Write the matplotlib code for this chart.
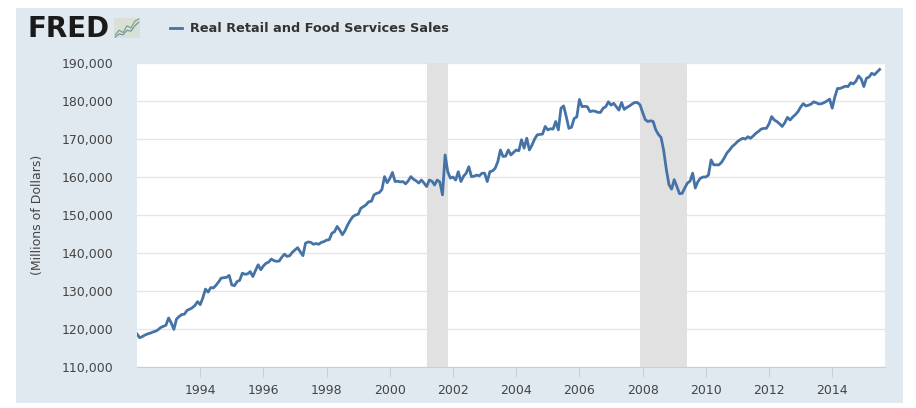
import numpy as np
import matplotlib
matplotlib.use('agg')
import matplotlib.pyplot as plt
from matplotlib.patches import Rectangle

# monthly values, thousands of millions, Jan 1992 - Jul 2015
sales_by_year = {
    1992: [118.7, 117.7, 118.0, 118.4, 118.7, 118.9, 119.2, 119.4, 119.8, 120.4, 120.7, 121.0],
    1993: [122.9, 121.6, 119.9, 122.6, 123.3, 123.8, 123.9, 124.9, 125.2, 125.6, 126.2, 127.2],
    1994: [126.4, 128.2, 130.5, 129.7, 130.9, 130.8, 131.5, 132.4, 133.4, 133.5, 133.6, 134.1],
    1995: [131.6, 131.4, 132.5, 132.8, 134.7, 134.4, 134.5, 135.1, 133.8, 135.4, 136.9, 135.6],
    1996: [136.6, 137.3, 137.6, 138.4, 138.0, 137.8, 137.9, 138.9, 139.7, 139.1, 139.3, 140.2],
    1997: [140.8, 141.4, 140.3, 139.3, 142.6, 142.9, 142.8, 142.3, 142.5, 142.3, 142.8, 143.0],
    1998: [143.4, 143.5, 145.2, 145.6, 147.0, 146.0, 144.8, 145.9, 147.4, 148.6, 149.6, 150.0],
    1999: [150.2, 151.8, 152.2, 152.7, 153.5, 153.6, 155.3, 155.7, 155.9, 156.7, 160.1, 158.5],
    2000: [159.6, 161.2, 158.8, 158.9, 158.7, 158.8, 158.2, 159.0, 160.1, 159.4, 159.0, 158.4],
    2001: [159.2, 158.4, 157.5, 159.2, 158.9, 157.9, 159.2, 158.7, 155.3, 165.8, 161.4, 159.7],
    2002: [160.0, 159.2, 161.4, 158.8, 160.2, 161.0, 162.7, 160.1, 160.2, 160.5, 160.3, 161.0],
    2003: [161.0, 158.8, 161.4, 161.6, 162.3, 164.0, 167.1, 165.4, 165.5, 167.1, 165.8, 166.5],
    2004: [167.1, 166.9, 169.8, 167.6, 170.2, 167.1, 168.4, 170.0, 171.1, 171.2, 171.3, 173.3],
    2005: [172.4, 172.7, 172.6, 174.6, 172.4, 178.1, 178.7, 175.9, 172.8, 173.1, 175.4, 175.8],
    2006: [180.4, 178.5, 178.6, 178.5, 177.2, 177.4, 177.3, 177.0, 177.0, 178.1, 178.5, 179.8],
    2007: [178.9, 179.4, 178.5, 177.6, 179.6, 177.8, 178.3, 178.7, 179.2, 179.6, 179.6, 179.0],
    2008: [177.0, 175.1, 174.6, 174.8, 174.6, 172.4, 171.2, 170.4, 167.0, 162.0, 158.0, 156.8],
    2009: [159.3, 157.5, 155.6, 155.7, 157.1, 158.4, 158.9, 161.0, 157.1, 158.8, 159.7, 160.0],
    2010: [160.0, 160.5, 164.5, 163.2, 163.2, 163.2, 163.9, 165.0, 166.3, 167.1, 168.0, 168.6],
    2011: [169.3, 169.8, 170.2, 170.0, 170.6, 170.2, 170.8, 171.5, 172.0, 172.6, 172.8, 172.8],
    2012: [174.0, 175.9, 175.0, 174.6, 174.0, 173.3, 174.3, 175.7, 175.0, 175.8, 176.4, 177.2],
    2013: [178.4, 179.3, 178.7, 178.9, 179.2, 179.8, 179.5, 179.2, 179.3, 179.6, 180.0, 180.5],
    2014: [178.1, 181.1, 183.3, 183.3, 183.6, 183.9, 183.8, 184.8, 184.5, 185.2, 186.6, 185.8],
    2015: [183.8, 186.0, 186.3, 187.3, 186.9, 187.6, 188.3],
}
recessions = [(2001 + 2/12, 2001 + 10/12), (2007 + 11/12, 2009 + 5/12)]
series_name = "Real Retail and Food Services Sales"
y_label = "(Millions of Dollars)"

t = []
v = []
for yr in sorted(sales_by_year):
    for m, val in enumerate(sales_by_year[yr]):
        t.append(yr + m / 12.0)
        v.append(val * 1000)

W, H = 916, 408
fig = plt.figure(figsize=(W/100., H/100.), dpi=100)
fig.patch.set_facecolor('white')
# blue-grey panel behind everything
fig.patches.append(Rectangle((16./W, 1-403./H), (903.-16)/W, (403.-8)/H,
                             transform=fig.transFigure, facecolor='#e1e9f0',
                             edgecolor='none', zorder=-10))

ax = fig.add_axes([137./W, 1-367./H, (885.-137)/W, (367.-63)/H])
ax.set_facecolor('white')
for a, b in recessions:
    ax.axvspan(a, b, color='#e1e1e1', lw=0, zorder=1)
ax.plot(t, v, color='#4572a7', lw=2, zorder=3, solid_joinstyle='round')

ax.set_xlim(1992.0, 2015.67)
ax.set_ylim(110000, 190000)
ax.set_yticks(np.arange(110000, 190001, 10000))
ax.set_yticklabels(['{:,}'.format(x) for x in range(110000, 190001, 10000)])
ax.set_xticks(np.arange(1994, 2015, 2))
ax.set_xticklabels([str(x) for x in range(1994, 2015, 2)])
ax.grid(axis='y', color='#e6e6e6', lw=1, zorder=0)
ax.set_axisbelow(True)
for s in ['top', 'right', 'left']:
    ax.spines[s].set_visible(False)
ax.spines['bottom'].set_color('#c0d0e0')
ax.tick_params(axis='y', length=0, pad=17, labelsize=9, labelcolor='#444444')
ax.tick_params(axis='x', length=7, color='#c0d0e0', pad=5, labelsize=9, labelcolor='#444444')
fig.text(37./W, 1-215./H, y_label, rotation=90, ha='center', va='center',
         fontsize=9, color='#444444')

# header: logo and legend
fig.text(27./W, 1-29./H, "FRED", fontsize=20, fontweight='heavy', color='#1a1a1a',
         ha='left', va='center')
ic = fig.add_axes([114./W, 1-38./H, 26./W, 20./H])
ic.set_facecolor('#d8e0d8')
ic.plot([0, 1, 2, 3, 4, 5, 6], [1, 2, 1.5, 3, 2.5, 4, 4.5], color='#7aa06a', lw=0.8)
ic.plot([0, 1, 2, 3, 4, 5, 6], [0.5, 1.2, 1.0, 2.0, 1.8, 3.0, 3.8], color='#6a8aaa', lw=0.8)
ic.set_xticks([])
ic.set_yticks([])
for s in ic.spines.values():
    s.set_visible(False)
fig.lines.append(plt.Line2D([170./W, 182./W], [1-28./H, 1-28./H], transform=fig.transFigure,
                            color='#4572a7', lw=2))
fig.text(190./W, 1-28./H, series_name, fontsize=9.3, fontweight='bold', color='#333333',
         ha='left', va='center')

fig.savefig('out.png', dpi=100, facecolor=fig.get_facecolor())
